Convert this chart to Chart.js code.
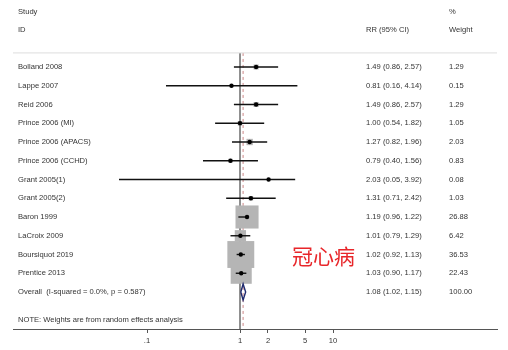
<!DOCTYPE html>
<html>
<head>
<meta charset="utf-8">
<script src="https://cdn.jsdelivr.net/npm/chart.js@4"></script>
<style>
  html, body { margin: 0; padding: 0; background: #fff; }
  #forest { display: block; }
</style>
</head>
<body>
<canvas id="forest" width="508" height="350"></canvas>
<script>
// study data
const studies = ['Bolland 2008', 'Lappe 2007', 'Reid 2006', 'Prince 2006 (MI)', 'Prince 2006 (APACS)',
  'Prince 2006 (CCHD)', 'Grant 2005(1)', 'Grant 2005(2)', 'Baron 1999', 'LaCroix 2009',
  'Boursiquot 2019', 'Prentice 2013'];
const rr = [1.49, 0.81, 1.49, 1.00, 1.27, 0.79, 2.03, 1.31, 1.19, 1.01, 1.02, 1.03];
const lower = [0.86, 0.16, 0.86, 0.54, 0.82, 0.40, 0.05, 0.71, 0.96, 0.79, 0.92, 0.90];
const upper = [2.57, 4.14, 2.57, 1.82, 1.96, 1.56, 3.92, 2.42, 1.22, 1.29, 1.13, 1.17];
const weights = [1.29, 0.15, 1.29, 1.05, 2.03, 0.83, 0.08, 1.03, 26.88, 6.42, 36.53, 22.43];
const overall = { rr: 1.08, lower: 1.02, upper: 1.15, weight: 100.00 };
const overallLabel = 'Overall  (I-squared = 0.0%, p = 0.587)';
const noteText = 'NOTE: Weights are from random effects analysis';
const xTicks = [0.1, 1, 2, 5, 10];

const n = studies.length;
const fmt = v => v.toFixed(2);
const ciText = (e, l, u) => fmt(e) + ' (' + fmt(l) + ', ' + fmt(u) + ')';

const FONT = '7.6px "Liberation Sans", Arial, sans-serif';
const TXT = '#333';

// CI lines, one dataset each
const ciSets = studies.map((s, i) => ({
  type: 'line',
  data: [{ x: lower[i], y: i }, { x: upper[i], y: i }],
  borderColor: '#111',
  borderWidth: 1.4,
  pointRadius: 0,
  order: 3
}));

const textPlugin = {
  id: 'forestText',
  afterDraw(chart) {
    const ctx = chart.ctx;
    const ys = chart.scales.y;
    ctx.save();
    // separator under header
    ctx.strokeStyle = '#ddd';
    ctx.lineWidth = 1;
    ctx.beginPath();
    ctx.moveTo(13, ys.getPixelForValue(-0.75));
    ctx.lineTo(497, ys.getPixelForValue(-0.75));
    ctx.stroke();

    ctx.font = FONT;
    ctx.fillStyle = TXT;
    ctx.textBaseline = 'middle';
    ctx.textAlign = 'left';
    const hy1 = ys.getPixelForValue(-2.93);
    const hy2 = ys.getPixelForValue(-1.97);
    ctx.fillText('Study', 18, hy1);
    ctx.fillText('ID', 18, hy2);
    ctx.fillText('RR (95% CI)', 366, hy2);
    ctx.fillText('%', 449, hy1);
    ctx.fillText('Weight', 449, hy2);

    studies.forEach((s, i) => {
      const y = ys.getPixelForValue(i);
      ctx.fillText(s, 18, y);
      ctx.fillText(ciText(rr[i], lower[i], upper[i]), 366, y);
      ctx.fillText(fmt(weights[i]), 449, y);
    });
    const oy = ys.getPixelForValue(n);
    ctx.fillText(overallLabel, 18, oy);
    ctx.fillText(ciText(overall.rr, overall.lower, overall.upper), 366, oy);
    ctx.fillText(fmt(overall.weight), 449, oy);
    ctx.fillText(noteText, 18, ys.getPixelForValue(n + 1.49));

    // red annotation
    ctx.font = '21px "Noto Sans CJK SC", sans-serif';
    ctx.fillStyle = '#e8262a';
    ctx.fillText('冠心病', 292, ys.getPixelForValue(10.1));
    ctx.restore();
  }
};

const yMin = -3.573, yMax = 13.973;

new Chart(document.getElementById('forest'), {
  type: 'scatter',
  data: {
    datasets: [
      // reference line at 1
      {
        type: 'line',
        data: [{ x: 1, y: -0.75 }, { x: 1, y: yMax }],
        borderColor: '#555',
        borderWidth: 1.3,
        pointRadius: 0,
        order: 6
      },
      // overall estimate dashed line
      {
        type: 'line',
        data: [{ x: overall.rr, y: -0.75 }, { x: overall.rr, y: yMax }],
        borderColor: '#d49a9a',
        borderWidth: 1.2,
        borderDash: [3, 3],
        pointRadius: 0,
        order: 6
      },
      // weight boxes
      {
        data: studies.map((s, i) => ({ x: rr[i], y: i })),
        pointStyle: 'rect',
        pointRadius: weights.map(w => 4.45 * Math.sqrt(w) / Math.SQRT2),
        backgroundColor: '#b5b5b5',
        borderWidth: 0,
        order: 4
      },
      ...ciSets,
      // overall diamond
      {
        type: 'line',
        data: [
          { x: overall.lower, y: n }, { x: overall.rr, y: n - 0.43 },
          { x: overall.upper, y: n }, { x: overall.rr, y: n + 0.43 },
          { x: overall.lower, y: n }
        ],
        borderColor: '#1f2a6e',
        borderWidth: 1.4,
        backgroundColor: '#fff',
        fill: true,
        pointRadius: 0,
        tension: 0,
        order: 2
      },
      // point estimates
      {
        data: studies.map((s, i) => ({ x: rr[i], y: i })),
        pointRadius: 2.2,
        backgroundColor: '#000',
        borderWidth: 0,
        order: 1
      }
    ]
  },
  options: {
    responsive: false,
    animation: false,
    layout: { autoPadding: false, padding: { left: 13, right: 11, top: 0, bottom: 0 } },
    plugins: { legend: { display: false }, tooltip: { enabled: false } },
    scales: {
      x: {
        type: 'logarithmic',
        min: 0.003623,
        max: 580,
        afterBuildTicks: scale => { scale.ticks = xTicks.map(v => ({ value: v })); },
        afterFit: scale => { scale.height = 21; },
        ticks: {
          callback: v => (v === 0.1 ? '.1' : String(v)),
          font: { family: '"Liberation Sans", Arial, sans-serif', size: 7.6 },
          color: TXT,
          padding: 3,
          maxRotation: 0,
          autoSkip: false
        },
        grid: { drawOnChartArea: false, tickLength: 4, color: '#555' },
        border: { color: '#555', width: 1 }
      },
      y: {
        type: 'linear',
        display: false,
        reverse: true,
        min: yMin,
        max: yMax
      }
    }
  },
  plugins: [textPlugin]
});
</script>
</body>
</html>
